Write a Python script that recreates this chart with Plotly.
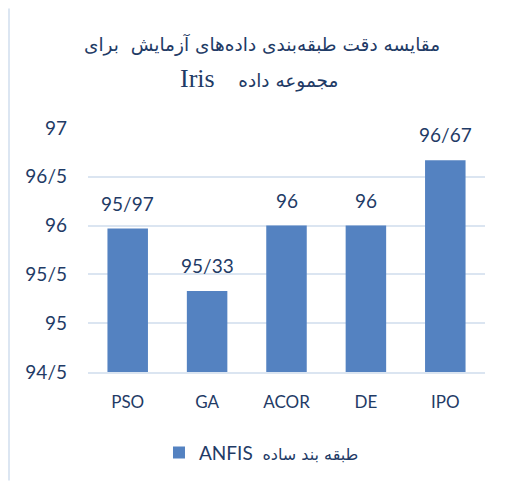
import plotly.graph_objects as go

categories = ["PSO", "GA", "ACOR", "DE", "IPO"]
values = [95.97, 95.33, 96.0, 96.0, 96.67]
value_labels = ["95/97", "95/33", "96", "96", "96/67"]
tick_vals = [94.5, 95.0, 95.5, 96.0, 96.5, 97.0]
tick_text = ["94/5", "95", "95/5", "96", "96/5", "97"]
series_en = "ANFIS"
series_fa = "طبقه بند ساده"
title_line1 = "مقایسه دقت طبقه‌بندی داده‌های آزمایش  برای"
title_line2_fa = "مجموعه داده"
title_line2_en = "Iris"

TXT = "#1f3b66"
GRID = "#dbe5f1"
font_main = "Lato, 'DejaVu Sans', sans-serif"
font_fa = "'DejaVu Sans', sans-serif"

W, H = 498, 474
L, R, T, B = 80, 21, 120, 109
PW, PH = W - L - R, H - T - B

fig = go.Figure()
fig.add_trace(go.Bar(
    x=categories, y=values,
    name="<span style='font-size:19px'>" + series_en + "</span>  <span style='font-family:DejaVu Sans;font-size:16px'>" + series_fa + "</span>",
    marker=dict(color="#5482c1", line=dict(width=0)),
    showlegend=True,
))

for c, v, t in zip(categories, values, value_labels):
    fig.add_annotation(x=c, y=v, text=t, showarrow=False, yanchor="bottom",
                       yshift=12, font=dict(family=font_main, size=19, color=TXT))

def py(yfig):
    return 1 + (T - yfig) / PH

def px(xfig):
    return (xfig - L) / PW

fig.add_annotation(xref="paper", yref="paper", x=px(254), y=py(36), text=title_line1,
                   showarrow=False, xanchor="center", yanchor="middle",
                   font=dict(family=font_fa, size=18.5, color=TXT))
fig.add_annotation(xref="paper", yref="paper", x=px(251), y=py(70),
                   text="<span style='font-family:Liberation Serif;font-size:26px'>" + title_line2_en + "</span>    " + title_line2_fa,
                   showarrow=False, xanchor="center", yanchor="middle",
                   font=dict(family=font_fa, size=18.5, color=TXT))

fig.update_layout(
    width=W, height=H,
    margin=dict(l=L, r=R, t=T, b=B),
    paper_bgcolor="white", plot_bgcolor="white",
    bargap=0.49,
    legend=dict(orientation="h", x=0.437, xanchor="center", y=-0.325, yanchor="middle",
                font=dict(family=font_main, size=19, color=TXT)),
    xaxis=dict(showgrid=False, showline=True, linecolor=GRID, linewidth=1.5,
               tickfont=dict(family=font_main, size=17, color=TXT),
               ticklabelstandoff=14),
    yaxis=dict(range=[94.5, 97], tickvals=tick_vals, ticktext=tick_text,
               showgrid=True, gridcolor=GRID, gridwidth=1.5, zeroline=False,
               tickfont=dict(family=font_main, size=19, color=TXT),
               ticklabelstandoff=20),
    shapes=[dict(type="line", xref="paper", yref="paper",
                 x0=px(1), x1=px(1), y0=py(H), y1=py(0),
                 line=dict(color="#dce6f2", width=2))],
)

fig.write_html("out.html")
